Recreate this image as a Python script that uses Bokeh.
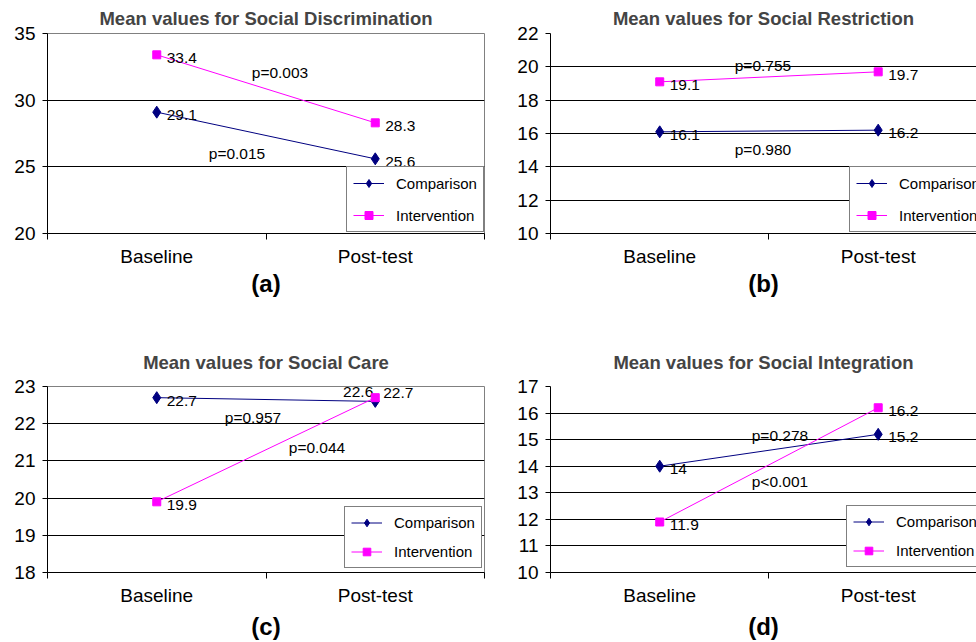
from bokeh.plotting import figure
from bokeh.models import Range1d, FixedTicker, Legend, LegendItem, Grid, ColumnDataSource
from bokeh.layouts import gridplot
from bokeh.embed import file_html
from bokeh.resources import INLINE
from bokeh.core.properties import value

# ---------------- data ----------------
categories = ["Baseline", "Post-test"]
series_names = ["Comparison", "Intervention"]

titles = [
    "Mean values for Social Discrimination",
    "Mean values for Social Restriction",
    "Mean values for Social Care",
    "Mean values for Social Integration",
]
panel_letters = ["(a)", "(b)", "(c)", "(d)"]

comparison_a = [29.1, 25.6]
intervention_a = [33.4, 28.3]
comparison_b = [16.1, 16.2]
intervention_b = [19.1, 19.7]
comparison_c = [22.7, 22.6]
intervention_c = [19.9, 22.7]
comparison_d = [14, 15.2]
intervention_d = [11.9, 16.2]

p_comparison = ["p=0.015", "p=0.980", "p=0.957", "p=0.278"]
p_intervention = ["p=0.003", "p=0.755", "p=0.044", "p<0.001"]

yticks_a = [20, 25, 30, 35]
yticks_b = [10, 12, 14, 16, 18, 20, 22]
yticks_c = [18, 19, 20, 21, 22, 23]
yticks_d = [10, 11, 12, 13, 14, 15, 16, 17]

comparisons = [comparison_a, comparison_b, comparison_c, comparison_d]
interventions = [intervention_a, intervention_b, intervention_c, intervention_d]
yticks_all = [yticks_a, yticks_b, yticks_c, yticks_d]

# ---------------- styles / layout ----------------
FONT = "Liberation Sans"
NAVY = "#000080"
MAGENTA = "#FF00FF"
GRAY = "#808080"

DEF_LAB = (10, 3, "left")
styles = [
    dict(w=486, h=310, bl=47, br=2, bt=33, bb=77, xfrac=1.0, tstand=10, lab_stand=6, ax_stand=0,
         leg=(299, 1), leg_lh=20, leg_sp=12, pc=(-29, 18), pi=(14, -16), right=False,
         comp_lab=[DEF_LAB, DEF_LAB], int_lab=[DEF_LAB, DEF_LAB]),
    dict(w=490, h=310, bl=64, br=0, bt=33, bb=77, xfrac=0.975, tstand=10, lab_stand=6, ax_stand=0,
         leg=(299, 1), leg_lh=20, leg_sp=12, pc=(-6, 18), pi=(-6, -11), right=True,
         comp_lab=[DEF_LAB, DEF_LAB], int_lab=[DEF_LAB, DEF_LAB]),
    dict(w=486, h=332, bl=47, br=2, bt=76, bb=70, xfrac=1.0, tstand=28, lab_stand=6, ax_stand=4,
         leg=(297, 4), leg_lh=19, leg_sp=10, pc=(-13, 18), pi=(51, -2), right=False,
         comp_lab=[DEF_LAB, (-2, -9, "right")], int_lab=[DEF_LAB, (8, -5, "left")]),
    dict(w=490, h=332, bl=64, br=0, bt=76, bb=70, xfrac=0.975, tstand=28, lab_stand=6, ax_stand=4,
         leg=(296, 5), leg_lh=19, leg_sp=10, pc=(11, -15), pi=(11, 17), right=True,
         comp_lab=[DEF_LAB, DEF_LAB], int_lab=[DEF_LAB, DEF_LAB]),
]


def fmt(v):
    return f"{v:g}"


def make_panel(i):
    st = styles[i]
    comp = comparisons[i]
    inter = interventions[i]
    yt = yticks_all[i]
    n = len(categories)
    xs = [k + 0.5 for k in range(n)]

    p = figure(width=st["w"], height=st["h"], output_backend="svg", toolbar_location=None,
               x_range=Range1d(0, n * st["xfrac"]), y_range=Range1d(yt[0], yt[-1]),
               min_border_left=st["bl"], min_border_right=st["br"],
               min_border_top=st["bt"], min_border_bottom=st["bb"],
               background_fill_color="white", border_fill_color="white")

    # title
    p.title.text = titles[i]
    p.title.text_font = FONT
    p.title.text_font_size = "18.5px"
    p.title.text_font_style = "bold"
    p.title.align = "center"
    p.title.standoff = st["tstand"]

    # x axis
    xa = p.xaxis[0]
    xa.ticker = FixedTicker(ticks=xs, minor_ticks=list(range(n + 1)))
    xa.major_label_overrides = {x: c for x, c in zip(xs, categories)}
    xa.major_tick_in = 0
    xa.major_tick_out = 0
    xa.minor_tick_in = 0
    xa.minor_tick_out = 6
    xa.minor_tick_line_color = "black"
    xa.axis_line_color = "black"
    xa.major_label_text_font = FONT
    xa.major_label_text_font_size = "19px"
    xa.major_label_text_color = "black"
    xa.major_label_standoff = st["lab_stand"]
    xa.axis_label = panel_letters[i]
    xa.axis_label_text_font = FONT
    xa.axis_label_text_font_size = "24px"
    xa.axis_label_text_font_style = "bold"
    xa.axis_label_text_color = "black"
    xa.axis_label_standoff = st["ax_stand"]

    # y axis
    ya = p.yaxis[0]
    ya.ticker = FixedTicker(ticks=yt, minor_ticks=[])
    ya.major_tick_in = 0
    ya.major_tick_out = 5
    ya.major_tick_line_color = "black"
    ya.axis_line_color = "black"
    ya.major_label_text_font = FONT
    ya.major_label_text_font_size = "19px"
    ya.major_label_text_color = "black"
    ya.major_label_standoff = 7

    # grid
    p.xgrid.visible = False
    p.ygrid.ticker = FixedTicker(ticks=yt[:-1])
    p.ygrid.grid_line_color = "black"
    p.ygrid.grid_line_width = 1
    if st["right"]:
        p.outline_line_color = None
        p.add_layout(Grid(dimension=1, ticker=FixedTicker(ticks=yt[-1:]),
                          grid_line_color=GRAY, grid_line_width=1))
    else:
        p.outline_line_color = GRAY
        p.outline_line_width = 1

    # series
    def series(vals, color, marker, size, lab):
        src = ColumnDataSource(dict(
            x=xs, y=vals, label=[fmt(v) for v in vals],
            dx=[o[0] for o in lab], dy=[o[1] for o in lab], al=[o[2] for o in lab]))
        ln = p.line("x", "y", source=src, line_color=color, line_width=1)
        mk = p.scatter("x", "y", source=src, marker=marker, size=size,
                       fill_color=color, line_color=color)
        p.text("x", "y", text="label", source=src, x_offset="dx", y_offset="dy",
               text_align="al", text_baseline="middle", text_font=value(FONT),
               text_font_size="15.5px", text_color="black")
        return ln, mk

    lc, mc = series(comp, NAVY, "diamond", 12, st["comp_lab"])
    li, mi = series(inter, MAGENTA, "square", 8, st["int_lab"])

    # p-values at line midpoints
    for vals, ptxt, off in ((comp, p_comparison[i], st["pc"]), (inter, p_intervention[i], st["pi"])):
        mx = sum(xs) / n
        my = sum(vals) / n
        p.text(x=[mx], y=[my], text=[ptxt], x_offset=off[0], y_offset=off[1],
               text_align="center", text_baseline="middle", text_font=value(FONT),
               text_font_size="15.5px", text_color="black")

    legend = Legend(items=[LegendItem(label=series_names[0], renderers=[lc, mc]),
                           LegendItem(label=series_names[1], renderers=[li, mi])],
                    location=st["leg"], border_line_color="black", border_line_width=1,
                    padding=6, spacing=st["leg_sp"], label_height=st["leg_lh"],
                    glyph_height=st["leg_lh"], glyph_width=31, label_standoff=12,
                    label_text_font=FONT, label_text_font_size="15px",
                    label_text_color="black", margin=0,
                    background_fill_color="white", background_fill_alpha=1)
    p.add_layout(legend)
    return p


plots = [make_panel(i) for i in range(4)]
grid = gridplot([[plots[0], plots[1]], [plots[2], plots[3]]], toolbar_location=None)

open("out.html", "w").write(file_html(grid, INLINE))
